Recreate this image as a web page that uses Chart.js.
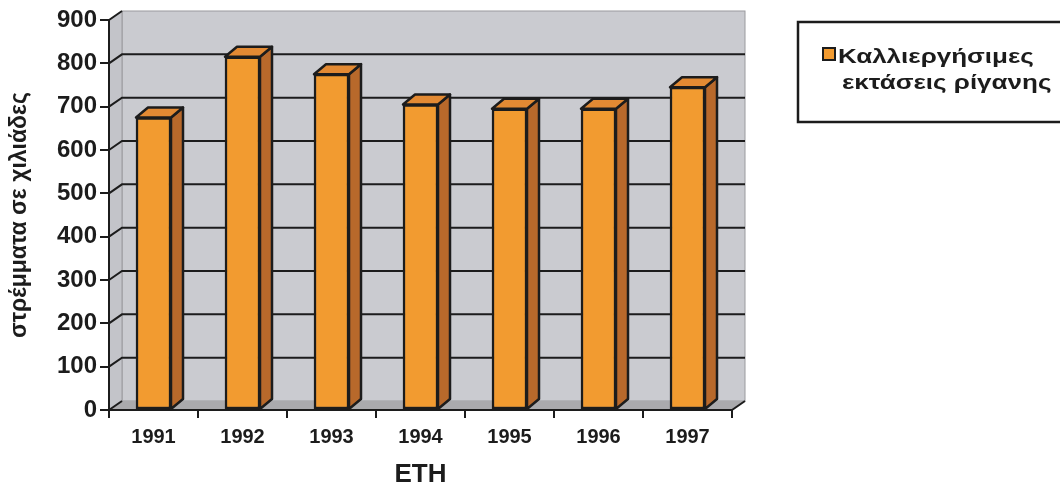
<!DOCTYPE html>
<html lang="el">
<head>
<meta charset="utf-8">
<title>Καλλιεργήσιμες εκτάσεις ρίγανης</title>
<script src="https://cdn.jsdelivr.net/npm/chart.js@4.4.1/dist/chart.umd.min.js"></script>
<style>
  html, body { margin: 0; padding: 0; background: #fff; }
  #wrap { width: 1060px; height: 489px; }
</style>
</head>
<body>
<div id="wrap"><canvas id="oreganoChart" width="1060" height="489"></canvas></div>
<script>
// data (thousand stremmata per year)
const years = ['1991', '1992', '1993', '1994', '1995', '1996', '1997'];
const areaValues = [675, 815, 775, 705, 695, 695, 745];
const seriesLabel = 'Καλλιεργήσιμες εκτάσεις ρίγανης';
const legendLines = ['Καλλιεργήσιμες', 'εκτάσεις ρίγανης'];
const yAxisTitle = 'στρέμματα σε χιλιάδες';
const xAxisTitle = 'ΕΤΗ';

const FONT = "'Liberation Sans', Arial, sans-serif";
const INK = '#1c1c1c';
// depth offsets of the 3d box and of the columns
const DX = 13, DY = -9;
const BAR_DX = 12, BAR_DY = -10;
const FRONT = '#f29b30', SIDE = '#b8692b', TOP = '#e38a33';

const boxPlugin = {
    id: 'box3d',
    beforeDraw(chart) {
        const ctx = chart.ctx;
        const a = chart.chartArea;
        const yScale = chart.scales.y;
        ctx.save();

        // back wall
        ctx.fillStyle = '#cacbd0';
        ctx.fillRect(a.left + DX, a.top + DY, a.right - a.left, a.bottom - a.top);
        ctx.strokeStyle = '#9a9a9e';
        ctx.lineWidth = 1;
        ctx.strokeRect(a.left + DX, a.top + DY, a.right - a.left, a.bottom - a.top);

        // side wall
        ctx.fillStyle = '#c3c4c9';
        ctx.beginPath();
        ctx.moveTo(a.left, a.top);
        ctx.lineTo(a.left + DX, a.top + DY);
        ctx.lineTo(a.left + DX, a.bottom + DY);
        ctx.lineTo(a.left, a.bottom);
        ctx.closePath();
        ctx.fill();
        ctx.stroke();

        // floor
        ctx.fillStyle = '#aaaaad';
        ctx.beginPath();
        ctx.moveTo(a.left, a.bottom);
        ctx.lineTo(a.left + DX, a.bottom + DY);
        ctx.lineTo(a.right + DX, a.bottom + DY);
        ctx.lineTo(a.right, a.bottom);
        ctx.closePath();
        ctx.fill();

        // gridlines on the walls
        ctx.strokeStyle = INK;
        ctx.lineWidth = 2;
        yScale.ticks.forEach(t => {
            const py = yScale.getPixelForValue(t.value);
            ctx.beginPath();
            ctx.moveTo(a.left, py);
            ctx.lineTo(a.left + DX, py + DY);
            if (t.value > yScale.min && t.value < yScale.max) {
                ctx.lineTo(a.right + DX, py + DY);
            }
            ctx.stroke();
        });

        // right end of the floor edge
        ctx.beginPath();
        ctx.moveTo(a.right, a.bottom);
        ctx.lineTo(a.right + DX, a.bottom + DY);
        ctx.stroke();
        ctx.restore();
    },
    afterDatasetsDraw(chart) {
        const ctx = chart.ctx;
        const meta = chart.getDatasetMeta(0);
        ctx.save();
        ctx.strokeStyle = INK;
        ctx.lineWidth = 2.5;
        ctx.lineJoin = 'round';
        meta.data.forEach(bar => {
            const p = bar.getProps(['x', 'y', 'base', 'width'], true);
            const l = p.x - p.width / 2, r = p.x + p.width / 2;
            // side face
            ctx.fillStyle = SIDE;
            ctx.beginPath();
            ctx.moveTo(r, p.y);
            ctx.lineTo(r + BAR_DX, p.y + BAR_DY);
            ctx.lineTo(r + BAR_DX, p.base + BAR_DY);
            ctx.lineTo(r, p.base);
            ctx.closePath();
            ctx.fill();
            ctx.stroke();
            // top face
            ctx.fillStyle = TOP;
            ctx.beginPath();
            ctx.moveTo(l, p.y);
            ctx.lineTo(l + BAR_DX, p.y + BAR_DY);
            ctx.lineTo(r + BAR_DX, p.y + BAR_DY);
            ctx.lineTo(r, p.y);
            ctx.closePath();
            ctx.fill();
            ctx.stroke();
        });
        ctx.restore();
    },
    afterDraw(chart) {
        // framed legend at the top right
        const ctx = chart.ctx;
        ctx.save();
        ctx.strokeStyle = INK;
        ctx.lineWidth = 2.5;
        ctx.strokeRect(798, 22, 270, 100);
        ctx.fillStyle = FRONT;
        ctx.fillRect(823, 48, 12, 12);
        ctx.lineWidth = 2;
        ctx.strokeRect(823, 48, 12, 12);
        ctx.fillStyle = INK;
        ctx.font = 'bold 20px ' + FONT;
        ctx.textBaseline = 'alphabetic';
        // the legend lettering is drawn wide
        [[legendLines[0], 838, 63], [legendLines[1], 842, 89]].forEach(([txt, x, y]) => {
            ctx.save();
            ctx.translate(x, y);
            ctx.scale(1.3, 1);
            ctx.fillText(txt, 0, 0);
            ctx.restore();
        });
        ctx.restore();
    }
};

new Chart(document.getElementById('oreganoChart'), {
    type: 'bar',
    data: {
        labels: years,
        datasets: [{
            label: seriesLabel,
            data: areaValues,
            backgroundColor: FRONT,
            borderColor: INK,
            borderWidth: 2.5,
            borderSkipped: false,
            barThickness: 35
        }]
    },
    options: {
        responsive: false,
        animation: false,
        layout: {
            padding: { top: 20, right: 328, bottom: 0, left: 0 }
        },
        plugins: {
            legend: { display: false },
            tooltip: { enabled: false }
        },
        scales: {
            x: {
                offset: true,
                afterFit(scale) { scale.height = 79; },
                grid: {
                    offset: true,
                    drawOnChartArea: false,
                    drawTicks: true,
                    tickLength: 8,
                    color: INK,
                    lineWidth: 2
                },
                border: { display: true, color: INK, width: 2 },
                ticks: {
                    color: INK,
                    padding: 7,
                    font: { family: FONT, size: 20, weight: 'bold' }
                },
                title: {
                    display: true,
                    text: xAxisTitle,
                    color: INK,
                    padding: { top: 0, bottom: 1 },
                    font: { family: FONT, size: 26, weight: 'bold', lineHeight: 1 }
                }
            },
            y: {
                min: 0,
                max: 900,
                afterFit(scale) { scale.width = 109; },
                grid: {
                    drawOnChartArea: false,
                    drawTicks: true,
                    tickLength: 9,
                    color: INK,
                    lineWidth: 2
                },
                border: { display: true, color: INK, width: 2 },
                ticks: {
                    stepSize: 100,
                    color: INK,
                    padding: 3,
                    font: { family: FONT, size: 24, weight: 'bold' }
                },
                title: {
                    display: true,
                    text: yAxisTitle,
                    color: INK,
                    padding: { top: 8, bottom: 0 },
                    font: { family: FONT, size: 23, weight: 'bold', lineHeight: 1 }
                }
            }
        }
    },
    plugins: [boxPlugin]
});
</script>
</body>
</html>
